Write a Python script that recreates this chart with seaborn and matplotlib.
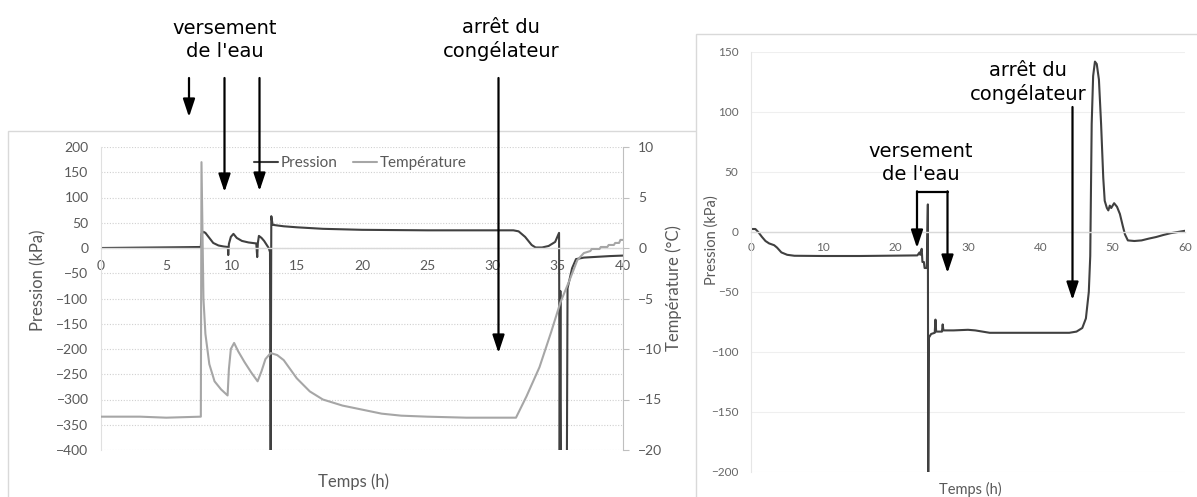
import matplotlib
matplotlib.use("Agg")
import matplotlib.pyplot as plt
import seaborn as sns
from matplotlib.patches import Rectangle, FancyArrowPatch, ArrowStyle
from matplotlib.lines import Line2D

# ---------------- data (left chart) ----------------
left_time_p = [0, 2, 4, 6, 7.65, 7.7, 7.85, 8.0, 8.3, 8.6, 9.0, 9.4, 9.72, 9.75, 9.8,
               9.95, 10.15, 10.4, 10.8, 11.3, 11.9, 11.97, 12.02, 12.1, 12.3, 12.5,
               12.7, 12.85, 12.95, 13.0, 13.05, 13.15, 13.4, 14, 15, 17, 20, 25, 31.6,
               32.0, 32.5, 33.0, 33.3, 33.8, 34.3, 34.8, 35.1, 35.15, 35.2, 35.25, 35.7,
               35.75, 36.1, 36.4, 37, 38, 39, 40]
left_pression = [0, 0.5, 1, 1.5, 2, 28, 32, 30, 20, 10, 5, 3, 2, -14, 8,
                 22, 28, 20, 14, 11, 9, -18, 10, 24, 20, 14,
                 6, 0, -8, -420, 63, 46, 45, 43, 41, 38, 36, 35, 35,
                 33, 22, 6, 1, 1, 4, 12, 30, -420, -85, -420, -420,
                 -80, -40, -22, -19, -17.5, -16, -15]

left_time_t = [0, 3, 5, 7.65, 7.7, 7.85, 8.0, 8.3, 8.7, 9.2, 9.7, 9.8, 9.95, 10.2,
               10.5, 11.0, 11.5, 12.0, 12.3, 12.6, 13.0, 13.5, 14.0, 15.0, 16.0, 17.0,
               18.5, 20, 21.5, 23, 25, 28, 31.8, 32.6, 33.6, 34.5, 35.2, 35.9, 36.5,
               37.0, 37.5, 37.6, 38.2, 38.3, 38.8, 38.9, 39.3, 39.4, 39.7, 39.8, 40]
left_temperature = [-16.7, -16.7, -16.8, -16.7, 8.5, -5, -8.5, -11.5, -13.2, -14.0, -14.6,
                    -12, -10, -9.4, -10.2, -11.3, -12.3, -13.2, -12.2, -11.0, -10.4,
                    -10.6, -11.1, -12.9, -14.2, -15.0, -15.6, -16.0, -16.4, -16.6, -16.7,
                    -16.8, -16.8, -14.7, -11.8, -8.3, -5.4, -3.2, -1.2, -0.5, -0.3,
                    -0.1, -0.1, 0.1, 0.1, 0.3, 0.3, 0.5, 0.5, 0.8, 0.8]

# ---------------- data (right chart) ----------------
right_time = [0, 0.6, 1.0, 1.5, 2.0, 2.5, 3.2, 3.6, 4.2, 5.0, 6, 10, 15, 20, 23.0,
              23.3, 23.4, 23.6, 23.7, 23.9, 24.0, 24.3, 24.45, 24.5, 24.6, 24.9, 25.4,
              25.5, 25.6, 26.4, 26.5, 26.6, 28, 30, 31, 33, 38, 42, 44, 45, 45.8, 46.3,
              46.7, 46.9, 47.1, 47.3, 47.55, 47.8, 48.1, 48.4, 48.7, 48.9, 49.2, 49.4,
              49.6, 49.8, 50.2, 50.6, 51.0, 51.4, 51.7, 52.1, 53, 54, 55, 56, 57, 58,
              59, 60]
right_pression = [2.5, 2.5, 0, -4, -7.5, -9.5, -11, -13, -17, -19, -19.8, -20, -20, -19.7,
                  -19.5, -17, -19, -14, -25, -25, -30, -30, 23, -210, -88, -85, -84,
                  -73, -83, -83, -77, -82, -82, -81.5, -82, -84, -84, -84, -84, -83,
                  -80, -72, -50, -20, 90, 130, 142, 140, 127, 90, 45, 26, 20, 18, 22,
                  20, 24, 21, 15, 5, -2, -7, -7.5, -7, -5.5, -4.2, -2.5, -1, 0, 1]

x_ticks_left = [0, 5, 10, 15, 20, 25, 30, 35, 40]
y_ticks_left_p = [-400, -350, -300, -250, -200, -150, -100, -50, 0, 50, 100, 150, 200]
y_ticks_left_t = [-20, -15, -10, -5, 0, 5, 10]
x_ticks_right = [0, 10, 20, 30, 40, 50, 60]
y_ticks_right = [-200, -150, -100, -50, 0, 50, 100, 150]

# ---------------- figure ----------------
W, H = 1197, 497
sns.set_theme(style="white")
plt.rcParams["font.family"] = ["Lato", "DejaVu Sans"]

fig = plt.figure(figsize=(W / 100, H / 100), dpi=100)
fig.patch.set_facecolor("white")


def fx(px):
    return px / W


def fy(py):
    return 1 - py / H


TICK_C = "#595959"
P_COL = "#404040"
T_COL = "#a6a6a6"

# chart boxes
fig.add_artist(Rectangle((fx(8), fy(530)), fx(705) - fx(8), fy(131) - fy(530),
                         transform=fig.transFigure, facecolor="white",
                         edgecolor="#d9d9d9", lw=1, zorder=-6))
fig.add_artist(Rectangle((fx(696), fy(530)), fx(1215) - fx(696), fy(34) - fy(530),
                         transform=fig.transFigure, facecolor="white",
                         edgecolor="#d9d9d9", lw=1, zorder=-5))

# ---------------- left chart ----------------
ax_l = fig.add_axes([fx(101), fy(450), fx(623) - fx(101), fy(147) - fy(450)])
ax_l.patch.set_alpha(0)
sns.lineplot(x=left_time_p, y=left_pression, ax=ax_l, color=P_COL, linewidth=1.5,
             estimator=None, sort=False)
ax_l.set_xlim(0, 40)
ax_l.set_ylim(-400, 200)
ax_l.set_xticks(x_ticks_left)
ax_l.set_yticks(y_ticks_left_p)
ax_l.yaxis.grid(True, linestyle=(0, (1, 1.5)), color="#d0d0d0", lw=0.8)
ax_l.xaxis.grid(False)
for s in ["top", "right"]:
    ax_l.spines[s].set_visible(False)
ax_l.spines["left"].set_color("#e0e0e0")
ax_l.spines["left"].set_linewidth(0.8)
ax_l.spines["bottom"].set_position(("data", 0))
ax_l.spines["bottom"].set_color("#d9d9d9")
ax_l.spines["bottom"].set_linewidth(1)
ax_l.tick_params(axis="y", length=0, pad=9, labelsize=10, labelcolor=TICK_C)
ax_l.tick_params(axis="x", length=0, pad=9, labelsize=10, labelcolor=TICK_C)
ax_l.set_xlabel("")
ax_l.set_ylabel("")

ax_t = ax_l.twinx()
ax_t.patch.set_alpha(0)
sns.lineplot(x=left_time_t, y=left_temperature, ax=ax_t, color=T_COL, linewidth=1.5,
             estimator=None, sort=False)
ax_t.set_xlim(0, 40)
ax_t.set_ylim(-20, 10)
ax_t.set_yticks(y_ticks_left_t)
ax_t.grid(False)
for s in ["top", "left", "bottom"]:
    ax_t.spines[s].set_visible(False)
ax_t.spines["right"].set_color("#bfbfbf")
ax_t.spines["right"].set_linewidth(0.8)
ax_t.tick_params(axis="y", direction="out", length=4, width=0.8, color="#bfbfbf",
                 pad=7, labelsize=10, labelcolor=TICK_C, right=True)
ax_t.set_xlabel("")
ax_t.set_ylabel("")

handles = [Line2D([], [], color=P_COL, lw=1.5), Line2D([], [], color=T_COL, lw=1.5)]
ax_t.legend(handles, ["Pression", "Température"], loc="center",
            bbox_to_anchor=(fx(360), fy(163)), bbox_transform=fig.transFigure,
            ncol=2, frameon=False, fontsize=11, handlelength=1.6,
            handletextpad=0.15, columnspacing=1.0, labelcolor=TICK_C)

fig.text(fx(38), fy(280), "Pression (kPa)", rotation=90, ha="center", va="center",
         fontsize=12, color=TICK_C)
fig.text(fx(354), fy(482), "Temps (h)", ha="center", va="center",
         fontsize=12, color=TICK_C)
fig.text(fx(674), fy(288), "Température (°C)", rotation=90, ha="center", va="center",
         fontsize=12, color=TICK_C)

# ---------------- right chart ----------------
ax_r = fig.add_axes([fx(751), fy(472), fx(1185) - fx(751), fy(52) - fy(472)])
ax_r.patch.set_alpha(0)
sns.lineplot(x=right_time, y=right_pression, ax=ax_r, color=P_COL, linewidth=1.5,
             estimator=None, sort=False)
ax_r.set_xlim(0, 60)
ax_r.set_ylim(-200, 150)
ax_r.set_xticks(x_ticks_right)
ax_r.set_yticks(y_ticks_right)
ax_r.yaxis.grid(True, linestyle="-", color="#efefef", lw=0.8)
ax_r.xaxis.grid(False)
for s in ["top", "right"]:
    ax_r.spines[s].set_visible(False)
ax_r.spines["left"].set_color("#e6e6e6")
ax_r.spines["left"].set_linewidth(0.8)
ax_r.spines["bottom"].set_position(("data", 0))
ax_r.spines["bottom"].set_color("#d9d9d9")
ax_r.spines["bottom"].set_linewidth(1)
ax_r.tick_params(axis="y", length=0, pad=9, labelsize=8.5, labelcolor="#666666")
ax_r.tick_params(axis="x", length=0, pad=7, labelsize=8.5, labelcolor="#666666")
ax_r.set_xlabel("")
ax_r.set_ylabel("")

fig.text(fx(712), fy(240), "Pression (kPa)", rotation=90, ha="center", va="center",
         fontsize=10.5, color=TICK_C)
fig.text(fx(970), fy(489), "Temps (h)", ha="center", va="center",
         fontsize=10.5, color=TICK_C)

# ---------------- annotations ----------------
ANN_FONT = ["DejaVu Sans"]
style = ArrowStyle("-|>", head_length=0.6, head_width=0.2)


def arrow(x, y0, y1):
    fig.add_artist(FancyArrowPatch((fx(x), fy(y0)), (fx(x), fy(y1)),
                                   transform=fig.transFigure, arrowstyle=style,
                                   mutation_scale=18, lw=1.6, color="black",
                                   shrinkA=0, shrinkB=0, zorder=20))


def label(x, y_last_baseline, s):
    fig.text(fx(x), fy(y_last_baseline), s, ha="center", va="baseline", fontsize=14,
             family=ANN_FONT, color="black", linespacing=1.25, zorder=20)


label(225, 57, "versement\nde l'eau")
label(501, 57, "arrêt du\ncongélateur")
arrow(189, 78, 117)
arrow(224.5, 78, 192)
arrow(259.5, 78, 191)
arrow(498.5, 78, 353)

label(921, 180, "versement\nde l'eau")
label(1028, 100, "arrêt du\ncongélateur")
fig.add_artist(Line2D([fx(917), fx(947.5)], [fy(192), fy(192)],
                      transform=fig.transFigure, color="black", lw=1.6, zorder=20))
arrow(917, 191.3, 248)
arrow(947.5, 191.3, 273)
arrow(1072.5, 107, 300)

fig.savefig("out.png", dpi=100)
